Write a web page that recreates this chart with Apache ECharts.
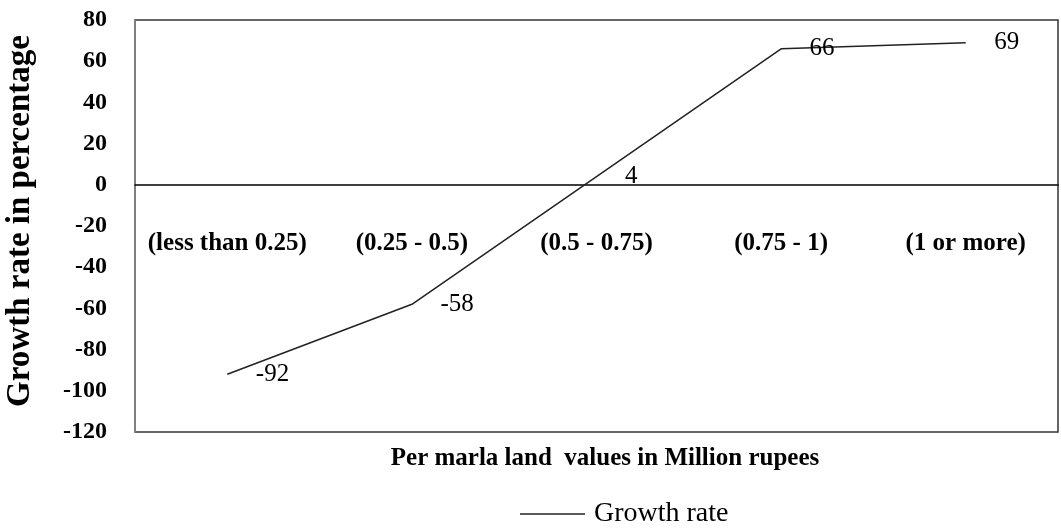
<!DOCTYPE html>
<html><head><meta charset="utf-8">
<script src="https://cdn.jsdelivr.net/npm/echarts@6/dist/echarts.min.js"></script>
<style>html,body{margin:0;padding:0;background:#fff;}#c{width:1061px;height:530px;}</style>
</head><body><div id="c"></div>
<script>
var categories = ['(less than 0.25)', '(0.25 - 0.5)', '(0.5 - 0.75)', '(0.75 - 1)', '(1 or more)'];
var growthRate = [-92, -58, 4, 66, 69];
var yMin = -120, yMax = 80, yStep = 20;
var FONT = 'Liberation Serif';
var chart = echarts.init(document.getElementById('c'));
chart.setOption({
  animation: false,
  backgroundColor: '#fff',
  grid: { left: 135, right: 3, top: 20, bottom: 98, containLabel: false, outerBoundsMode: 'none',
          show: true, borderColor: '#333', borderWidth: 1.5, backgroundColor: 'transparent' },
  title: {
    text: 'Per marla land  values in Million rupees',
    left: 605, top: 446, textAlign: 'center', padding: 0,
    textStyle: { fontFamily: FONT, fontWeight: 'bold', fontSize: 25, color: '#000' }
  },
  legend: {
    data: [{ name: 'Growth rate', icon: 'rect' }], left: 520, top: 500, padding: 0,
    itemWidth: 65, itemHeight: 1.5, itemGap: 4,
    itemStyle: { color: '#222' },
    textStyle: { fontFamily: FONT, fontSize: 28, color: '#000', padding: [0, 0, 0, 4] }
  },
  xAxis: {
    type: 'category', data: categories, boundaryGap: true,
    axisLine: { onZero: true, lineStyle: { color: '#000', width: 1.5 } },
    axisTick: { show: false },
    axisLabel: { margin: -201, fontFamily: FONT, fontWeight: 'bold', fontSize: 25, color: '#000', interval: 0 },
    splitLine: { show: false }
  },
  yAxis: {
    type: 'value', min: yMin, max: yMax, interval: yStep,
    name: 'Growth rate in percentage', nameLocation: 'middle', nameGap: 98, nameRotate: 90,
    nameTextStyle: { fontFamily: FONT, fontWeight: 'bold', fontSize: 33, color: '#000', padding: [0, 0, 0, 10] },
    axisLine: { show: true, lineStyle: { color: '#888', width: 1.5 } },
    axisTick: { show: false },
    axisLabel: { margin: 28, fontFamily: FONT, fontWeight: 'bold', fontSize: 24, color: '#000' },
    splitLine: { show: false }
  },
  series: [{
    name: 'Growth rate', type: 'line', data: growthRate,
    symbol: 'circle', symbolSize: 1, showSymbol: true,
    lineStyle: { color: '#222', width: 1.5 }, itemStyle: { color: 'rgba(0,0,0,0)' },
    label: { show: true, position: 'right', distance: 28, fontFamily: FONT, fontSize: 25, color: '#000' }
  }]
});
</script></body></html>
